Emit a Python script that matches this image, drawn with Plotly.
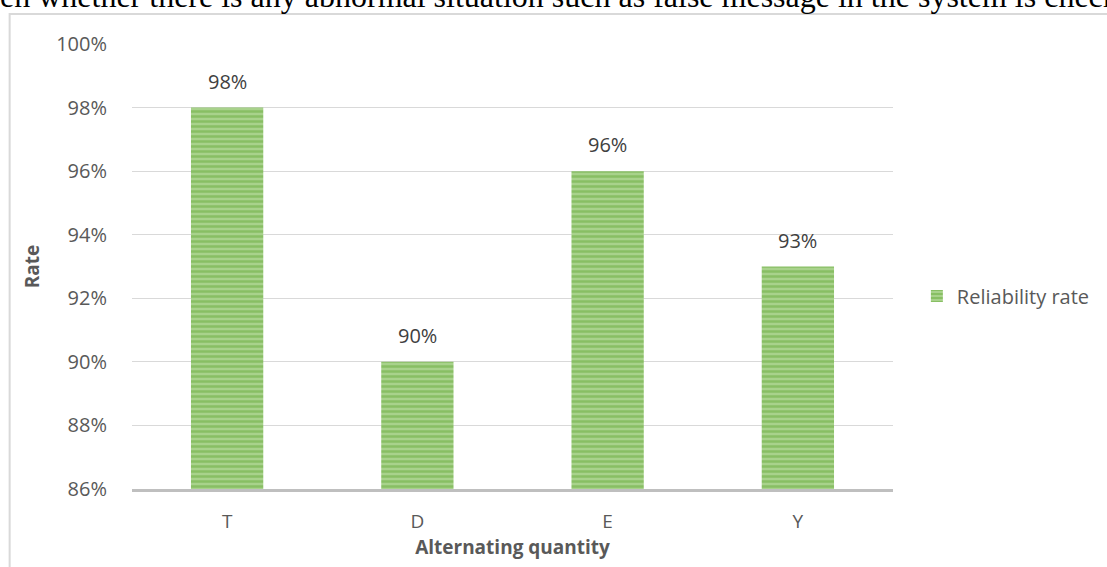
import plotly.graph_objects as go

categories = ["T", "D", "E", "Y"]
values = [0.98, 0.90, 0.96, 0.93]
series_name = "Reliability rate"
y_ticks = [0.86, 0.88, 0.90, 0.92, 0.94, 0.96, 0.98, 1.00]
top_text = "en whether there is any abnormal situation such as false message in the system is check"

W, H = 1107, 567
L, R, T, B = 132, 210, 44, 78
FONT = "Open Sans, Liberation Sans, sans-serif"
GRAY = "#595959"

fig = go.Figure()
fig.add_trace(go.Bar(
    x=categories, y=values, name=series_name,
    width=0.38,
    marker=dict(
        color="#A5D088",
        line=dict(width=0),
        pattern=dict(shape="-", fgcolor="#67AB3C", bgcolor="#A8D28B",
                     size=5, solidity=0.5, fillmode="overlay"),
    ),
    showlegend=True,
))

for c, v in zip(categories, values):
    fig.add_annotation(x=c, y=v, text=f"{round(v*100)}%", showarrow=False,
                       yanchor="bottom", yshift=11,
                       font=dict(family=FONT, size=20, color="#404040"))

# document text above chart
fig.add_annotation(xref="paper", yref="paper",
                   x=-(L + 3) / (W - L - R), y=1 + (T - 16) / (H - T - B),
                   xanchor="left", yanchor="bottom", text=top_text,
                   showarrow=False,
                   font=dict(family="Liberation Serif, Times New Roman, serif", size=32, color="#000000"))

# chart border
fig.add_shape(type="rect", xref="paper", yref="paper",
              x0=-(L - 9) / (W - L - R), x1=(W + 20 - L) / (W - L - R),
              y0=-(B + 20) / (H - T - B), y1=1 + (T - 14) / (H - T - B),
              line=dict(color="#D9D9D9", width=2), layer="below")

fig.update_layout(
    width=W, height=H,
    margin=dict(l=L, r=R, t=T, b=B, pad=0),
    paper_bgcolor="white", plot_bgcolor="white",
    font=dict(family=FONT, color=GRAY, size=20),
    bargap=0.62,
    legend=dict(x=(921 - L) / (W - L - R), y=(489 - 296) / (H - T - B),
                xanchor="left", yanchor="middle",
                font=dict(family=FONT, size=20, color=GRAY),
                itemwidth=30, bgcolor="rgba(0,0,0,0)"),
    xaxis=dict(
        showgrid=False, showline=True, linecolor="#BFBFBF", linewidth=3,
        ticks="", ticklabelstandoff=13,
        tickfont=dict(family=FONT, size=19, color=GRAY),
        title=dict(text="<b>Alternating quantity</b>", standoff=2,
                   font=dict(family=FONT, size=19, color=GRAY)),
    ),
    yaxis=dict(
        range=[0.86, 1.0], tickvals=y_ticks, tickformat=".0%",
        showgrid=True, gridcolor="#D9D9D9", gridwidth=1,
        zeroline=False, showline=False, ticks="", ticklabelstandoff=24,
        tickfont=dict(family=FONT, size=20, color=GRAY),
        title=dict(text="<b>Rate</b>", standoff=11,
                   font=dict(family=FONT, size=19, color=GRAY)),
    ),
)

fig.write_html("out.html")
